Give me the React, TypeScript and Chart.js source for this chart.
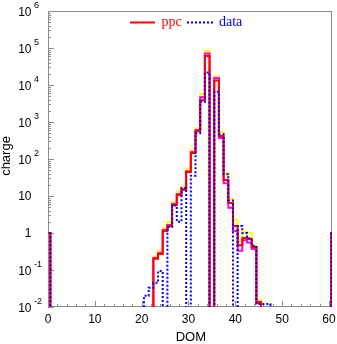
import React, { useEffect, useRef } from "react";
import { Chart, registerables } from "chart.js";

Chart.register(...registerables);

// DOM index 0..61 (bin centres; 0 and 61 are the under/overflow bins)
const doms: number[] = Array.from({ length: 62 }, (_, i) => i);

const ppc: number[] = [
  1, 0, 0, 0, 0, 0, 0, 0, 0, 0,
  0, 0, 0, 0, 0, 0, 0, 0, 0, 0,
  0, 0, 0, 0.2, 0.27, 1.13, 1.55, 5.7, 10.6, 14.5,
  44.5, 145, 570, 3900, 61000, 0, 13200, 420, 27, 6.5,
  1.55, 0.47, 0.73, 0.69, 0.42, 0.0137, 0, 0, 0, 0,
  0, 0, 0, 0, 0, 0, 0, 0, 0, 0,
  0, 1,
];

const ppcHigh: number[] = [
  1, 0, 0, 0, 0, 0, 0, 0, 0, 0,
  0, 0, 0, 0, 0, 0, 0, 0, 0, 0,
  0, 0, 0, 0.23, 0.33, 1.36, 1.98, 6.9, 12.8, 17.5,
  55, 175, 670, 5700, 83000, 0, 17000, 540, 42, 8.3,
  2.24, 0.61, 1.06, 1.0, 0.47, 0.0155, 0, 0, 0, 0,
  0, 0, 0, 0, 0, 0, 0, 0, 0, 0,
  0, 1,
];

const ppcAlt: number[] = [
  1, 0, 0, 0, 0, 0, 0, 0, 0, 0,
  0, 0, 0, 0, 0, 0, 0, 0, 0, 0,
  0, 0, 0, 0.21, 0.29, 1.2, 1.65, 6.1, 11.3, 15.5,
  47, 155, 610, 4700, 71000, 0, 15500, 370, 22, 4.8,
  1.13, 0.33, 0.64, 0.55, 0.37, 0.013, 0, 0, 0, 0,
  0, 0, 0, 0, 0, 0, 0, 0, 0, 0,
  0, 1,
];

const data: number[] = [
  1, 0, 0, 0, 0, 0, 0, 0, 0, 0,
  0, 0, 0, 0, 0, 0, 0, 0, 0, 0,
  0, 0.02, 0.033, 0.045, 0.094, 0, 1.45, 5.5, 2, 16.4,
  0, 35, 500, 3500, 21800, 0, 6600, 470, 39, 7.5,
  0, 1.55, 1.0, 0.72, 0.45, 0.012, 0.012, 0.012, 0, 0,
  0, 0, 0, 0, 0, 0, 0, 0, 0, 0,
  0, 1,
];

const yExponents: number[] = [-2, -1, 0, 1, 2, 3, 4, 5, 6];
const xTickLabels: number[] = [0, 10, 20, 30, 40, 50, 60];

const SANS = "'Liberation Sans', Arial, Helvetica, sans-serif";
const SERIF = "'Liberation Serif', 'Times New Roman', serif";
const FRAME = "#8c8c8c";
const TINY = 1e-6;

function toSteps(values: number[]) {
  const pts = values.map((v, i) => ({ x: doms[i] - 0.5, y: v > 0 ? v : TINY }));
  pts.push({ x: doms[doms.length - 1] + 0.5, y: TINY });
  return pts;
}

const decorPlugin = {
  id: "decor",
  beforeDatasetsDraw(chart: any) {
    const { ctx, chartArea: a, scales } = chart;
    const x = scales.x;
    const y = scales.y;
    ctx.save();
    ctx.strokeStyle = FRAME;
    ctx.lineWidth = 1;
    ctx.strokeRect(a.left + 0.5, a.top + 0.5, a.right - a.left - 1, a.bottom - a.top - 1);
    ctx.beginPath();
    for (let e = -2; e <= 6; e++) {
      for (let m = 1; m <= 9; m++) {
        const v = m * Math.pow(10, e);
        if (v > 1e6 * 1.0001) break;
        const py = Math.round(y.getPixelForValue(v)) + 0.5;
        const len = m === 1 ? 6 : 3;
        ctx.moveTo(a.left, py);
        ctx.lineTo(a.left + len, py);
      }
    }
    for (let t = 0; t <= 60; t += 2) {
      const px = Math.round(x.getPixelForValue(t)) + 0.5;
      const len = t % 10 === 0 ? 6 : 3;
      ctx.moveTo(px, a.bottom);
      ctx.lineTo(px, a.bottom - len);
    }
    ctx.stroke();
    ctx.restore();
  },
  afterDraw(chart: any) {
    const { ctx, scales } = chart;
    const x = scales.x;
    const y = scales.y;
    ctx.save();
    ctx.fillStyle = "#000";
    // y tick labels
    for (const e of yExponents) {
      const py = y.getPixelForValue(Math.pow(10, e));
      ctx.font = `12px ${SANS}`;
      ctx.textAlign = "right";
      ctx.textBaseline = "middle";
      if (e === 0) {
        ctx.fillText("1", 31.5, py + 0.5);
      } else if (e === 1) {
        ctx.fillText("10", 31.5, py + 0.5);
      } else {
        ctx.fillText("10", 31.5, py + 2);
        ctx.font = `9px ${SANS}`;
        ctx.textAlign = "left";
        ctx.fillText(String(e), 34, py - 5);
      }
    }
    // x tick labels
    ctx.font = `12px ${SANS}`;
    ctx.textAlign = "center";
    ctx.textBaseline = "middle";
    for (const t of xTickLabels) {
      ctx.fillText(String(t), x.getPixelForValue(t), 320);
    }
    // axis titles
    ctx.font = `13px ${SANS}`;
    ctx.fillText("DOM", x.getPixelForValue(30.5), 337);
    ctx.save();
    ctx.translate(6, 156);
    ctx.rotate(-Math.PI / 2);
    ctx.fillText("charge", 0, 0);
    ctx.restore();
    // legend
    ctx.lineWidth = 2;
    ctx.strokeStyle = "#ff0000";
    ctx.beginPath();
    ctx.moveTo(130, 22.5);
    ctx.lineTo(155, 22.5);
    ctx.stroke();
    ctx.strokeStyle = "#0000ff";
    ctx.setLineDash([2, 2]);
    ctx.beginPath();
    ctx.moveTo(187, 22.5);
    ctx.lineTo(215, 22.5);
    ctx.stroke();
    ctx.setLineDash([]);
    ctx.font = `14px ${SERIF}`;
    ctx.textAlign = "left";
    ctx.textBaseline = "alphabetic";
    ctx.fillStyle = "#ff0000";
    ctx.fillText("ppc", 161.5, 26);
    ctx.fillStyle = "#0000ff";
    ctx.fillText("data", 219, 26);
    ctx.restore();
  },
};

export default function App() {
  const ref = useRef<HTMLCanvasElement>(null);
  useEffect(() => {
    document.body.style.margin = "0";
    const canvas = ref.current;
    if (!canvas) return;
    const common = { pointRadius: 0, pointHoverRadius: 0, stepped: true as const, fill: false, tension: 0, borderWidth: 2 };
    const chart = new Chart(canvas, {
      type: "line",
      data: {
        datasets: [
          { ...common, label: "data", data: toSteps(data), borderColor: "#0000ff", borderDash: [2, 2] },
          { ...common, label: "ppc", data: toSteps(ppc), borderColor: "#ff0000" },
          { ...common, label: "ppc alt", data: toSteps(ppcAlt), borderColor: "#ff00ff" },
          { ...common, label: "ppc high", data: toSteps(ppcHigh), borderColor: "#ffff00" },
        ],
      },
      options: {
        animation: false,
        responsive: false,
        devicePixelRatio: 1,
        layout: { padding: { top: 11, right: 5, left: 0, bottom: 0 } },
        plugins: { legend: { display: false }, tooltip: { enabled: false } },
        events: [],
        scales: {
          x: {
            type: "linear",
            min: 0,
            max: 60.65,
            ticks: { display: false },
            grid: { display: false },
            border: { display: false },
            afterFit: (s: any) => { s.height = 37; },
          },
          y: {
            type: "logarithmic",
            min: 0.01,
            max: 1e6,
            ticks: { display: false },
            grid: { display: false },
            border: { display: false },
            afterFit: (s: any) => { s.width = 48; },
          },
        },
      },
      plugins: [decorPlugin],
    });
    return () => chart.destroy();
  }, []);
  return (
    <div style={{ width: 337, height: 344 }}>
      <canvas ref={ref} width={337} height={344} style={{ display: "block" }} />
    </div>
  );
}
